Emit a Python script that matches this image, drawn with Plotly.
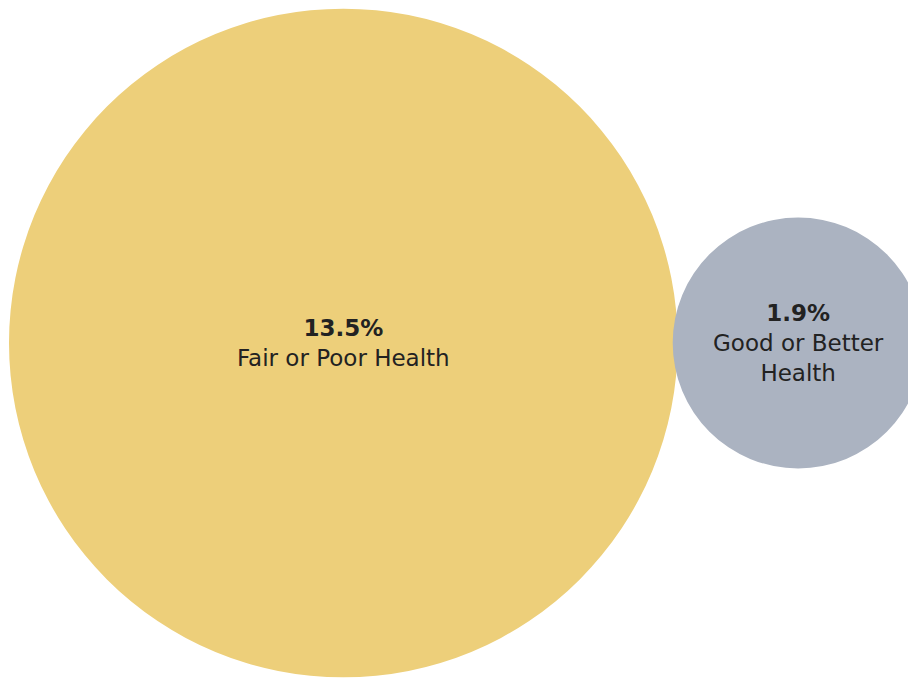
import math
import plotly.graph_objects as go

categories = ["Fair or Poor Health", "Good or Better Health"]
values = [13.5, 1.9]
value_labels = ["13.5%", "1.9%"]
label_lines = ["Fair or Poor Health", "Good or Better<br>Health"]
colors = ["#EDCF7A", "#ABB3C1"]

W, H = 908, 679
k = 91.0  # px per sqrt(value)
radii = [k * math.sqrt(v) for v in values]
cy = 343
cx0 = 9 + radii[0]
cx1 = cx0 + radii[0] + radii[1] - 5
centers = [cx0, cx1]

fig = go.Figure()
fig.add_trace(go.Scatter(x=[0, W], y=[0, H], mode="markers", marker=dict(opacity=0), hoverinfo="skip", showlegend=False))

for i in range(len(values)):
    r = radii[i]
    cx = centers[i]
    fig.add_shape(type="circle", xref="x", yref="y", x0=cx - r, x1=cx + r, y0=cy - r, y1=cy + r,
                  fillcolor=colors[i], line=dict(width=0), layer="below")
    fig.add_annotation(x=cx, y=cy, xref="x", yref="y", showarrow=False,
                       text=f"<b>{value_labels[i]}</b><br>{label_lines[i]}",
                       font=dict(family="DejaVu Sans, sans-serif", size=23, color="#222222"),
                       align="center")

fig.update_layout(width=W, height=H, margin=dict(l=0, r=0, t=0, b=0),
                  paper_bgcolor="white", plot_bgcolor="white",
                  xaxis=dict(range=[0, W], visible=False, fixedrange=True),
                  yaxis=dict(range=[H, 0], visible=False, fixedrange=True),
                  showlegend=False)
fig.write_html("out.html")
